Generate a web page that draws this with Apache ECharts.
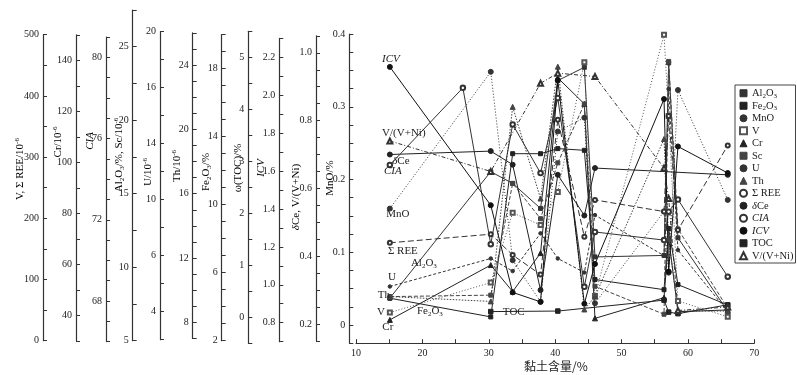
<!DOCTYPE html>
<html><head><meta charset="utf-8">
<script src="https://cdn.jsdelivr.net/npm/echarts/dist/echarts.min.js"></script>
<style>html,body{margin:0;padding:0;background:#fff}#c{width:797px;height:375px}</style>
</head><body><div id="c"></div>
<script>
// ---- data (clay content of the samples, and each proxy in its own units) ----
const clay  = [15.1, 26.1, 30.3, 33.6, 37.8, 40.4, 44.4, 46.0, 56.4, 57.1, 58.5, 66.0];
const al2o3 = [7.9, null, 16.5, 15.7, 14.0, 22.7, 23.6, 10.7, 10.8, 23.9, 12.0, 7.0];
const fe2o3 = [4.5, null, 3.4, 13.0, 13.0, 13.3, 13.2, 5.6, 5.0, 8.6, 5.3, 4.1];
const mno   = [0.160, null, 0.348, 0.089, 0.032, 0.266, 0.285, 0.030, 0.156, 0.072, 0.323, 0.172];
const vv    = [46, null, 95, 209, 189, 243, 455, 73, 500, 367, 65, 39];
const cr    = [38.2, null, 59.7, 49.3, 64.4, 133.1, 122.9, 38.8, 46.9, 70.3, 41.4, 42.1];
const sc    = [8.0, null, 8.1, 15.7, 13.3, 17.1, 21.1, 8.7, 6.8, 24.0, 12.6, 7.2];
const uu    = [5.8, null, 7.8, 6.9, 9.6, 7.8, 6.8, 10.9, 8.0, 19.9, 8.4, 4.0];
const th    = [9.6, null, 9.3, 21.4, 15.7, 23.9, 8.8, 9.6, 19.4, 13.2, 8.7, 8.7];
const ree   = [160, null, 174, 140, 108, 361, 170, 230, 211, 367, 181, 319];
const dce   = [0.70, null, 0.71, 0.67, 0.30, 0.64, 0.52, 0.66, null, null, null, 0.64];
const cia   = [74.7, 78.5, 70.8, 76.7, 74.3, 78.0, 68.7, 71.4, 71.0, 72.4, 73.0, 69.2];
const icv   = [2.15, null, 1.42, 0.96, 0.91, 2.08, 0.90, 1.11, 1.98, 1.07, 1.73, 1.59];
const toc   = [null, null, 0.11, null, null, 0.12, null, null, 0.33, 0.10, 0.07, 0.24];
const vvni  = [0.74, null, 0.65, null, 0.91, 0.94, null, 0.93, 0.66, 0.57, 0.24, 0.25];
// tick labels as printed on the U axis
const uTickValues = [4, 8, 12, 16, 20, 24];
const uTickText   = ['4', '6', '10', '14', '16', '20'];
const xTicks = [10, 20, 30, 40, 50, 60, 70];

// ---- styling / layout ----
const SERIF = '"Liberation Serif","DejaVu Serif",serif';
const INK = '#222';
function rich(fs) {
  return {
    n: {fontFamily: SERIF, fontSize: fs, color: INK, lineHeight: fs + 2},
    i: {fontFamily: SERIF, fontSize: fs, fontStyle: 'italic', color: INK, lineHeight: fs + 2},
    sub: {fontFamily: SERIF, fontSize: Math.round(fs * 0.65), color: INK, verticalAlign: 'bottom', lineHeight: fs + 2},
    sup: {fontFamily: SERIF, fontSize: Math.round(fs * 0.65), color: INK, verticalAlign: 'top', lineHeight: fs + 2}
  };
}
const GL = 356, GR = 797 - 754.3;
const AX = {
  mno: {x: 349.3, top: 34, bot: 343.2, min: -0.025, max: 0.4, interval: 0.025,
        fmt: v => { const k = Math.round(v * 1000); return k % 100 === 0 ? (k === 0 ? '0' : (k / 1000).toFixed(1)) : ''; }},
  dce: {x: 316, top: 35.85, bot: 340.95, min: 0.15, max: 1.05, interval: 0.05,
        fmt: v => { const k = Math.round(v * 100); return k % 20 === 0 ? (k / 100).toFixed(1) : ''; }},
  icv: {x: 279.3, top: 38.45, bot: 341.65, min: 0.7, max: 2.3, interval: 0.1,
        fmt: v => { const k = Math.round(v * 10); return k % 2 === 0 ? (k / 10).toFixed(1) : ''; }},
  toc: {x: 248.3, top: 31.3, bot: 343.3, min: -0.5, max: 5.5, interval: 0.5,
        fmt: v => { const k = Math.round(v * 10); return k % 10 === 0 ? String(k / 10) : ''; }},
  fe:  {x: 221.7, top: 34.7, bot: 340.7, min: 2, max: 20, interval: 1, fmt: v => (Math.round(v) - 2) % 4 === 0 ? String(Math.round(v)) : ''},
  th:  {x: 192.7, top: 32.9, bot: 338.4, min: 7, max: 26, interval: 1, fmt: v => Math.round(v) % 4 === 0 ? String(Math.round(v)) : ''},
  u:   {x: 160, top: 31.7, bot: 339.7, min: 2, max: 24, interval: 2,
        fmt: v => { const i = uTickValues.indexOf(Math.round(v)); return i >= 0 ? uTickText[i] : ''; }},
  al:  {x: 132.7, top: 10, bot: 340.7, min: 5, max: 27.5, interval: 2.5,
        fmt: v => { const k = Math.round(v * 10); return k % 50 === 0 ? String(k / 10) : ''; }},
  cia: {x: 106, top: 37.1, bot: 341.6, min: 66, max: 81, interval: 1, fmt: v => Math.round(v) % 4 === 0 ? String(Math.round(v)) : ''},
  cr:  {x: 76, top: 34.8, bot: 340.8, min: 30, max: 150, interval: 10, fmt: v => Math.round(v) % 20 === 0 ? String(Math.round(v)) : ''},
  v:   {x: 43, top: 34.7, bot: 340.7, min: 0, max: 500, interval: 50, fmt: v => Math.round(v) % 100 === 0 ? String(Math.round(v)) : ''}
};
const axKeys = Object.keys(AX);

const names = [
  {x: 20, y: 169, t: '{n|V, Σ REE/10}{sup|-6}'},
  {x: 58, y: 142, t: '{n|Cr/10}{sup|-6}'},
  {x: 90, y: 141, t: '{i|CIA}'},
  {x: 119, y: 155, t: '{n|Al}{sub|2}{n|O}{sub|3}{n|/%, Sc/10}{sup|-6}'},
  {x: 148, y: 172, t: '{n|U/10}{sup|-6}'},
  {x: 177, y: 166, t: '{n|Th/10}{sup|-6}'},
  {x: 206.5, y: 172, t: '{n|Fe}{sub|2}{n|O}{sub|3}{n|/%}'},
  {x: 238, y: 168, t: '{n|ω(TOC)/%}'},
  {x: 261.5, y: 168, t: '{i|ICV}'},
  {x: 296.5, y: 197, t: '{i|δ}{n|Ce, V/(V+Ni)}'},
  {x: 330, y: 178, t: '{n|MnO/%}'}
];

const S = [
  {name: 'Al2O3', d: al2o3, ax: 'al', sym: 'rect', size: 4, lt: 'solid', c: '#333', lab: '{n|Al}{sub|2}{n|O}{sub|3}', off: [34, -35]},
  {name: 'Fe2O3', d: fe2o3, ax: 'fe', sym: 'rect', size: 4, lt: 'solid', c: '#222', lab: '{n|Fe}{sub|2}{n|O}{sub|3}', off: [40, 13]},
  {name: 'MnO', d: mno, ax: 'mno', sym: 'circle', size: 5, lt: [1, 2], c: '#333', lab: '{n|MnO}', off: [8, 6]},
  {name: 'V', d: vv, ax: 'v', sym: 'emptyRect', size: 4, lt: [1, 2], c: '#555', lab: '{n|V}', off: [-9, 0]},
  {name: 'Cr', d: cr, ax: 'cr', sym: 'triangle', size: 5, lt: 'solid', c: '#222', lab: '{n|Cr}', off: [-2, 7]},
  {name: 'Sc', d: sc, ax: 'al', sym: 'rect', size: 4, lt: [4, 2], c: '#444'},
  {name: 'U', d: uu, ax: 'u', sym: 'circle', size: 3.5, lt: [3, 2], c: '#333', lab: '{n|U}', off: [2, -9]},
  {name: 'Th', d: th, ax: 'th', sym: 'triangle', size: 5, lt: [1.5, 1.5], c: '#444', lab: '{n|Th}', off: [-6, -1]},
  {name: 'ΣREE', d: ree, ax: 'v', sym: 'emptyCircle', size: 4, lt: [6, 3], c: '#333', lab: '{n|Σ REE}', off: [13, 8]},
  {name: 'δCe', d: dce, ax: 'dce', sym: 'circle', size: 5, lt: 'solid', c: '#222', lab: '{i|δ}{n|Ce}', off: [11, 7]},
  {name: 'CIA', d: cia, ax: 'cia', sym: 'emptyCircle', size: 4.5, lt: 'solid', c: '#333', lab: '{i|CIA}', off: [3, 6]},
  {name: 'ICV', d: icv, ax: 'icv', sym: 'circle', size: 5, lt: 'solid', c: '#111', lab: '{i|ICV}', off: [1, -8]},
  {name: 'TOC', d: toc, ax: 'toc', sym: 'rect', size: 4.5, lt: 'solid', c: '#222', lab: '{n|TOC}', off: [23, 1]},
  {name: 'V/(V+Ni)', d: vvni, ax: 'dce', sym: 'emptyTriangle', size: 5, lt: [4, 2, 1, 2], c: '#333', lab: '{n|V/(V+Ni)}', off: [14, -8]}
];
const legendText = {
  'Al2O3': '{n|Al}{sub|2}{n|O}{sub|3}', 'Fe2O3': '{n|Fe}{sub|2}{n|O}{sub|3}', 'MnO': '{n|MnO}', 'V': '{n|V}',
  'Cr': '{n|Cr}', 'Sc': '{n|Sc}', 'U': '{n|U}', 'Th': '{n|Th}', 'ΣREE': '{n|Σ REE}', 'δCe': '{i|δ}{n|Ce}',
  'CIA': '{i|CIA}', 'ICV': '{i|ICV}', 'TOC': '{n|TOC}', 'V/(V+Ni)': '{n|V/(V+Ni)}'
};

const grid = [], xAxis = [], yAxis = [];
axKeys.forEach((k, i) => {
  const a = AX[k];
  grid.push({left: GL, right: GR, top: a.top, height: a.bot - a.top});
  xAxis.push({
    gridIndex: i, type: 'value', min: 10, max: 70, interval: 5, show: i === 0,
    axisLine: {onZero: false, lineStyle: {color: '#333', width: 1.2}},
    axisTick: {inside: true, length: 4, lineStyle: {color: '#333'}},
    axisLabel: {margin: 5, fontFamily: SERIF, fontSize: 10, color: INK,
                formatter: v => xTicks.indexOf(Math.round(v)) >= 0 ? String(Math.round(v)) : ''},
    splitLine: {show: false}
  });
  yAxis.push({
    gridIndex: i, type: 'value', position: 'left', offset: GL - a.x,
    min: a.min, max: a.max, interval: a.interval,
    axisLine: {show: true, onZero: false, lineStyle: {color: '#333', width: 1.2}},
    axisTick: {show: true, inside: true, length: 4, lineStyle: {color: '#333'}},
    axisLabel: {margin: 4, fontFamily: SERIF, fontSize: 10, color: INK, formatter: a.fmt, showMinLabel: true, showMaxLabel: true},
    splitLine: {show: false}
  });
});

const RICH = rich(11);
const series = S.map(s => {
  const gi = axKeys.indexOf(s.ax);
  const pts = [];
  let first = true;
  s.d.forEach((val, i) => {
    if (val === null) return;
    const item = {value: [clay[i], val]};
    if (first && s.lab) {
      item.label = {show: true, position: 'inside', offset: s.off, formatter: s.lab};
    }
    first = false;
    pts.push(item);
  });
  return {
    name: s.name, type: 'line', xAxisIndex: gi, yAxisIndex: gi, data: pts,
    symbol: s.sym, symbolSize: s.size, clip: false, animation: false,
    lineStyle: {color: s.c, width: 1, type: s.lt},
    itemStyle: {color: s.c, borderColor: s.c, borderWidth: 1},
    label: {show: false, rich: RICH},
    emphasis: {disabled: true}
  };
});

const graphic = names.map(n => ({
  type: 'text', x: n.x, y: n.y, rotation: Math.PI / 2,
  style: {text: n.t, rich: rich(11), align: 'center', verticalAlign: 'middle'}
}));
graphic.push({
  type: 'text', x: 556, y: 366,
  style: {text: '黏土含量/%', fontFamily: '"Noto Sans CJK SC",' + SERIF, fontSize: 12, fill: INK, align: 'center', verticalAlign: 'middle'}
});

const chart = echarts.init(document.getElementById('c'), null, {renderer: 'canvas'});
chart.setOption({
  animation: false,
  backgroundColor: '#fff',
  grid, xAxis, yAxis, series, graphic,
  legend: {
    orient: 'vertical', left: 735, top: 85, itemWidth: 7, itemHeight: 7, itemGap: 0,
    padding: [2, 2, 1, 4], borderColor: '#444', borderWidth: 1, selectedMode: false,
    data: S.map(s => ({name: s.name, icon: s.sym, itemStyle: {color: s.c, borderColor: s.c, borderWidth: 1}})),
    formatter: nm => legendText[nm],
    textStyle: {fontFamily: SERIF, fontSize: 10.5, lineHeight: 12.8, rich: rich(10.5)}
  }
});
</script></body></html>
